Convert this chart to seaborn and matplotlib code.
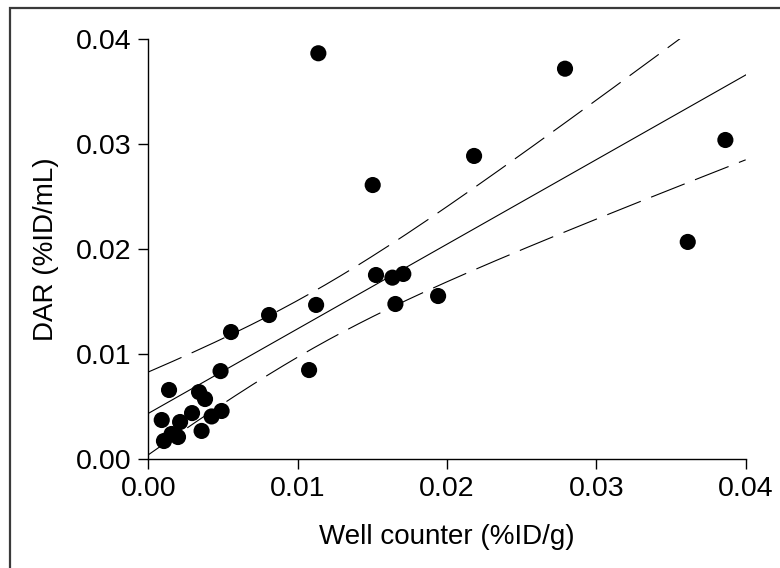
import numpy as np
import pandas as pd
import matplotlib
matplotlib.use("Agg")
import matplotlib.pyplot as plt
import seaborn as sns
from matplotlib.patches import Rectangle

# Data
well_counter = [0.00089, 0.00138, 0.00104, 0.00155, 0.00198, 0.00212, 0.00292,
                0.00339, 0.00379, 0.00356, 0.00423, 0.00490, 0.00483, 0.00553,
                0.00808, 0.01076, 0.01123, 0.01138, 0.01502, 0.01524, 0.01634,
                0.01707, 0.01654, 0.01940, 0.02181, 0.02790, 0.03612, 0.03864]
dar = [0.00374, 0.00660, 0.00174, 0.00241, 0.00212, 0.00355, 0.00440,
       0.00640, 0.00574, 0.00270, 0.00408, 0.00460, 0.00840, 0.01212,
       0.01374, 0.00850, 0.01470, 0.03867, 0.02612, 0.01755, 0.01730,
       0.01765, 0.01479, 0.01555, 0.02889, 0.03720, 0.02070, 0.03041]
x_ticks = [0.00, 0.01, 0.02, 0.03, 0.04]
y_ticks = [0.00, 0.01, 0.02, 0.03, 0.04]
x_label = "Well counter (%ID/g)"
y_label = "DAR (%ID/mL)"

df = pd.DataFrame({"x": well_counter, "y": dar})

sns.set_theme(style="ticks")
plt.rcParams["font.family"] = ["Liberation Sans", "DejaVu Sans"]
plt.rcParams["lines.scale_dashes"] = False

fig = plt.figure(figsize=(7.8, 5.68), dpi=100)
ax = fig.add_axes([0.1903, 0.1914, 0.9560 - 0.1903, 0.9308 - 0.1914])

sns.regplot(data=df, x="x", y="y", ax=ax, ci=None, truncate=False,
            scatter_kws=dict(s=135, color="black", edgecolor="none", alpha=1, zorder=3),
            line_kws=dict(color="black", lw=0.8, zorder=2))

# Analytic 95% confidence band for the mean (dashed)
xa = np.asarray(well_counter)
ya = np.asarray(dar)
n = len(xa)
b1, b0 = np.polyfit(xa, ya, 1)
resid = ya - (b0 + b1 * xa)
s = np.sqrt(np.sum(resid ** 2) / (n - 2))
tcrit = 2.056  # t(0.975, df=26)
xs = np.linspace(0, 0.04, 200)
se = s * np.sqrt(1.0 / n + (xs - xa.mean()) ** 2 / np.sum((xa - xa.mean()) ** 2))
yfit = b0 + b1 * xs
for sign in (1, -1):
    ax.plot(xs, yfit + sign * tcrit * se, color="black", lw=0.8,
            linestyle=(0, (26, 8)), zorder=2)

ax.set_xlim(0, 0.04)
ax.set_ylim(0, 0.04)
ax.set_xticks(x_ticks)
ax.set_yticks(y_ticks)
ax.set_xticklabels([f"{v:.2f}" if v == 0 else f"{v:g}" for v in x_ticks])
ax.set_yticklabels([f"{v:.2f}" if v == 0 else f"{v:g}" for v in y_ticks])
ax.tick_params(axis="both", labelsize=20.5, length=7, width=1, color="black",
               labelcolor="black", pad=5)
ax.set_xlabel(x_label, fontsize=20, color="black", labelpad=16)
ax.set_ylabel(y_label, fontsize=20, color="black", labelpad=12)
for side in ("left", "bottom"):
    ax.spines[side].set_color("black")
    ax.spines[side].set_linewidth(1)
sns.despine(ax=ax)

# Partial outer frame (top and left edges visible)
fig.add_artist(Rectangle((10 / 780, -0.1), 1.2, (568 - 8) / 568 + 0.1,
                         transform=fig.transFigure, fill=False,
                         edgecolor="#3a3a3a", lw=1.6))

fig.savefig("out.png", dpi=100)
